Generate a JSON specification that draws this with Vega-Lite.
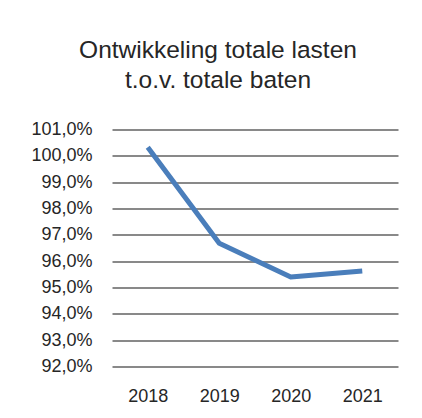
{
  "$schema": "https://vega.github.io/schema/vega-lite/v6.json",
  "autosize": "none",
  "width": 286,
  "height": 237,
  "padding": {"left": 112, "top": 129.5, "right": 24, "bottom": 51.5},
  "background": "white",
  "config": {"view": {"stroke": null}, "font": "Liberation Sans"},
  "title": {
    "text": ["Ontwikkeling totale lasten", "t.o.v. totale baten"],
    "font": "Liberation Sans",
    "fontSize": 24.5,
    "fontWeight": "normal",
    "color": "#262626",
    "lineHeight": 30,
    "anchor": "middle",
    "frame": "group",
    "dx": -37,
    "offset": 27
  },
  "data": {
    "values": [
      {"year": "2018", "ratio": 100.33},
      {"year": "2019", "ratio": 96.68},
      {"year": "2020", "ratio": 95.4},
      {"year": "2021", "ratio": 95.63}
    ]
  },
  "mark": {"type": "line", "color": "#4a7ebb", "strokeWidth": 5, "strokeJoin": "round", "strokeCap": "butt"},
  "encoding": {
    "x": {
      "field": "year",
      "type": "ordinal",
      "scale": {"type": "point", "padding": 0.5},
      "axis": {"title": null, "domain": false, "ticks": false, "labelAngle": 0, "labelFontSize": 18, "labelColor": "#262626", "labelPadding": 21, "labelFont": "Liberation Sans"}
    },
    "y": {
      "field": "ratio",
      "type": "quantitative",
      "scale": {"domain": [92, 101], "nice": false, "zero": false},
      "axis": {
        "title": null,
        "domain": false,
        "ticks": false,
        "values": [92, 93, 94, 95, 96, 97, 98, 99, 100, 101],
        "labelExpr": "replace(format(datum.value, '.1f'), '.', ',') + '%'",
        "labelFontSize": 18,
        "labelColor": "#262626",
        "labelPadding": 20,
        "labelFont": "Liberation Sans",
        "grid": true,
        "gridColor": "#898989",
        "gridWidth": 2
      }
    }
  }
}
